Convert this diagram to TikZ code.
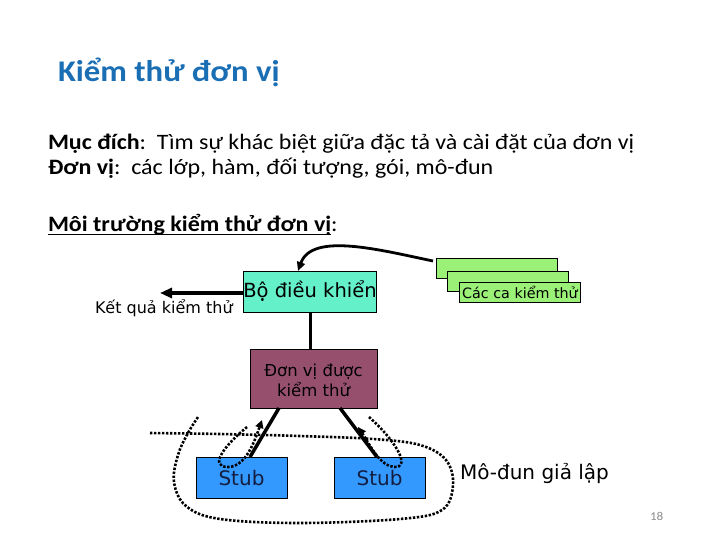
\documentclass[tikz,border=0pt]{standalone}
\usepackage{fontspec}
\setmainfont{Carlito}[FakeStretch=1.09]
\newfontfamily\tah{DejaVu Sans}
\usetikzlibrary{arrows.meta}
\definecolor{titleblue}{RGB}{26,110,180}
\definecolor{ctrlcol}{RGB}{100,240,200}
\definecolor{tccol}{RGB}{155,240,120}
\definecolor{unitcol}{RGB}{150,80,110}
\definecolor{stubcol}{RGB}{51,153,255}
\definecolor{stubtext}{RGB}{20,30,65}
\definecolor{pagegray}{RGB}{140,140,140}
\tikzset{
  txt/.style={anchor=base west, inner sep=0pt, outer sep=0pt},
  boxnode/.style={draw=black, line width=0.9pt, inner sep=0pt, outer sep=0pt},
  solidconn/.style={line width=3.5pt, draw=black},
  dotconn/.style={line width=2.6pt, dash pattern=on 2.4pt off 1.6pt, draw=black},
}
\begin{document}
\begin{tikzpicture}[x=1pt,y=-1pt]
\useasboundingbox (0,0) rectangle (720,540);
% texts
\node[txt, text=titleblue, font=\fontsize{30}{33}\selectfont\bfseries] (title) at (58,82) {Kiểm thử đơn vị};
\node[txt, font=\fontsize{22}{26}\selectfont] (l1) at (48,150) {\textbf{Mục đích}:\ \ Tìm sự khác biệt giữa đặc tả và cài đặt của đơn vị};
\node[txt, font=\fontsize{22}{26}\selectfont] (l2) at (48,175) {\textbf{Đơn vị}:\ \ các lớp, hàm, đối tượng, gói, mô-đun};
\node[txt, font=\fontsize{22}{26}\selectfont\bfseries] (m1) at (48,231) {Môi trường kiểm thử đơn vị};
\node[txt, font=\fontsize{22}{26}\selectfont] (m2) at (m1.base east) {:};
\draw[line width=1.8pt] ([yshift=-3.5pt]m1.base west) -- ([yshift=-3.5pt]m1.base east);

% boxes
\node[boxnode, fill=ctrlcol, minimum width=132pt, minimum height=41pt, text height=13pt, text depth=2pt, font=\tah\fontsize{19.5}{22}\selectfont] (ctrl) at (310,291.5) {Bộ điều khiển};
\node[txt, font=\tah\fontsize{16}{19}\selectfont] (res) at (95,313) {Kết quả kiểm thử};
\coordinate (outEnd) at (160,293);

\node[boxnode, fill=tccol, minimum width=121pt, minimum height=20pt] (tc1) at (496.5,268) {};
\node[boxnode, fill=tccol, minimum width=121pt, minimum height=20pt] (tc2) at (508,281) {};
\node[boxnode, fill=tccol, minimum width=121pt, minimum height=20pt, text height=12.5pt, text depth=0.5pt, font=\tah\fontsize{14.3}{17}\selectfont] (tc3) at (520,292) {Các ca kiểm thử};

\node[boxnode, fill=unitcol, minimum width=127pt, minimum height=59pt, align=center, font=\tah\fontsize{16.5}{20}\selectfont] (unit) at (313.5,378.5) {\rule{0pt}{17pt}Đơn vị được\\kiểm thử};

\node[boxnode, fill=stubcol, text=stubtext, minimum width=91pt, minimum height=41pt, text height=16pt, text depth=1pt, font=\tah\fontsize{20}{24}\selectfont] (stub1) at (241.5,477.5) {Stub};
\node[boxnode, fill=stubcol, text=stubtext, minimum width=91pt, minimum height=41pt, text height=16pt, text depth=1pt, font=\tah\fontsize{20}{24}\selectfont] (stub2) at (379.5,477.5) {Stub};

\node[txt, font=\tah\fontsize{20}{24}\selectfont] (sim) at (460,479) {Mô-đun giả lập};
\node[txt, text=pagegray, font=\fontsize{12}{14}\selectfont] (page) at (650,520) {18};

% solid connectors
\draw[solidconn, -{Triangle[length=12pt,width=10pt]}] (ctrl.west |- outEnd) -- (outEnd);
\draw[line width=3pt] (ctrl.south) -- (ctrl.south |- unit.north);
\draw[solidconn] ([xshift=29pt]unit.south west) -- ([xshift=54pt]stub1.north west);
\draw[solidconn] ([xshift=-37pt]unit.south east) -- ([xshift=-2.5pt]stub2.north);
\draw[line width=2.8pt, -{Triangle[length=9pt,width=8pt]}] ([xshift=-3pt,yshift=-3pt]tc1.north west) .. controls (380,250) and (312,232) .. ([xshift=-12pt]ctrl.north);

% dotted stub arrows
\coordinate (la) at (247,427);
\coordinate (lb) at (262,420);
\draw[dotconn, -{Triangle[length=8pt,width=8pt]}] (la) .. controls (225,445) and (208,467) .. (228,467) .. controls (246,467) and (255,440) .. (lb);
\coordinate (ra) at (369,417);
\coordinate (rb) at (358,427);
\draw[dotconn, -{Triangle[length=8pt,width=8pt]}] (ra) .. controls (395,440) and (412,468) .. (394,467) .. controls (380,466) and (370,445) .. (rb);

% big dotted loop
\draw[dotconn] plot[smooth, tension=0.6] coordinates {(150,433) (220,434) (300,436) (373,439) (420,445) (446,460) (453,485) (442,510) (400,519) (300,523) (220,519) (186,506) (174,482) (178,455) (188,433) (198,417)};
\end{tikzpicture}
\end{document}
